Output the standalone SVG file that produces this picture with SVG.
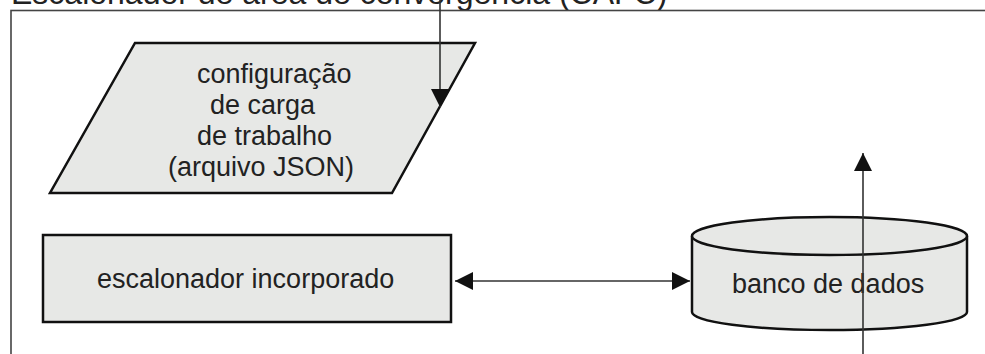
<svg xmlns="http://www.w3.org/2000/svg" width="985" height="354" viewBox="0 0 985 354">
  <style>
    .txt { font-family: "Liberation Sans", Arial, sans-serif; font-size: 27px; fill: #222; }
    .title { font-family: "Liberation Sans", Arial, sans-serif; font-size: 32px; fill: #222; }
    .shape { fill: #e7e8e6; stroke: #111; stroke-width: 2.5; }
    .conn { fill: none; stroke: #333; stroke-width: 1.6; }
  </style>
  <defs>
    <marker id="ah" markerUnits="userSpaceOnUse" markerWidth="18" markerHeight="18" viewBox="0 0 16 16" refX="16" refY="8" orient="auto-start-reverse">
      <path d="M0,0 L16,8 L0,16 Z" fill="#111"/>
    </marker>
  </defs>
  <rect width="985" height="354" fill="#fff"/>
  <text class="title" x="11" y="3.5">Escalonador de área de convergência (CAFC)</text>
  <rect id="frame" x="11" y="10.5" width="1000" height="400" fill="none" stroke="#444" stroke-width="1.6"/>

  <g id="config">
    <polygon class="shape" points="135,43 475,43 392,193 50,193"/>
    <text class="txt" x="197" y="83">configuração</text>
    <text class="txt" x="210" y="114">de carga</text>
    <text class="txt" x="197" y="145">de trabalho</text>
    <text class="txt" x="168" y="176">(arquivo JSON)</text>
  </g>

  <g id="scheduler">
    <rect class="shape" x="43" y="235" width="408" height="87"/>
    <text class="txt" x="97" y="288">escalonador incorporado</text>
  </g>

  <g id="database">
    <path class="shape" d="M692,236 L692,312 A137.5,18 0 0 0 967,312 L967,236"/>
    <ellipse class="shape" cx="829.5" cy="236" rx="137.5" ry="19"/>
    <text class="txt" x="732" y="293">banco de dados</text>
  </g>

  <g id="connectors">
    <line class="conn" x1="440" y1="0" x2="440" y2="107" marker-end="url(#ah)"/>
    <line class="conn" x1="455" y1="281" x2="690" y2="281" marker-start="url(#ah)" marker-end="url(#ah)"/>
    <line class="conn" x1="863" y1="354" x2="863" y2="153" marker-end="url(#ah)"/>
  </g>
</svg>
